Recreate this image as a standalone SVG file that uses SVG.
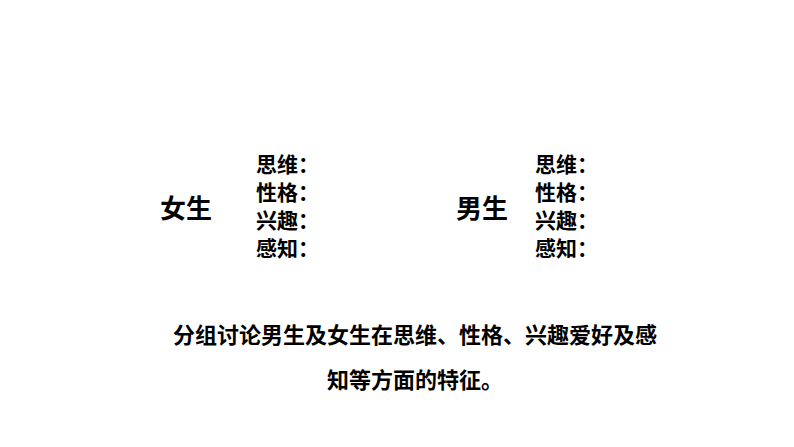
<svg xmlns="http://www.w3.org/2000/svg" width="794" height="447" viewBox="0 0 794 447">
<style>
text{font-family:"Liberation Sans","Noto Sans CJK SC",sans-serif;font-weight:bold;fill:#000}
.big{font-size:26px}
.item{font-size:21px}
.body{font-size:22px}
</style>
<rect width="794" height="447" fill="#fff"/>
<g id="girl">
<text class="big" x="160" y="218">女生</text>
<text class="item" x="256" y="172">思维：</text>
<text class="item" x="256" y="200">性格：</text>
<text class="item" x="256" y="228">兴趣：</text>
<text class="item" x="256" y="256">感知：</text>
</g>
<g id="boy">
<text class="big" x="456" y="218">男生</text>
<text class="item" x="535" y="172">思维：</text>
<text class="item" x="535" y="200">性格：</text>
<text class="item" x="535" y="228">兴趣：</text>
<text class="item" x="535" y="256">感知：</text>
</g>
<g id="task">
<text class="body" x="415" y="343" text-anchor="middle">分组讨论男生及女生在思维、性格、兴趣爱好及感</text>
<text class="body" x="415" y="388" text-anchor="middle">知等方面的特征。</text>
</g>
</svg>
